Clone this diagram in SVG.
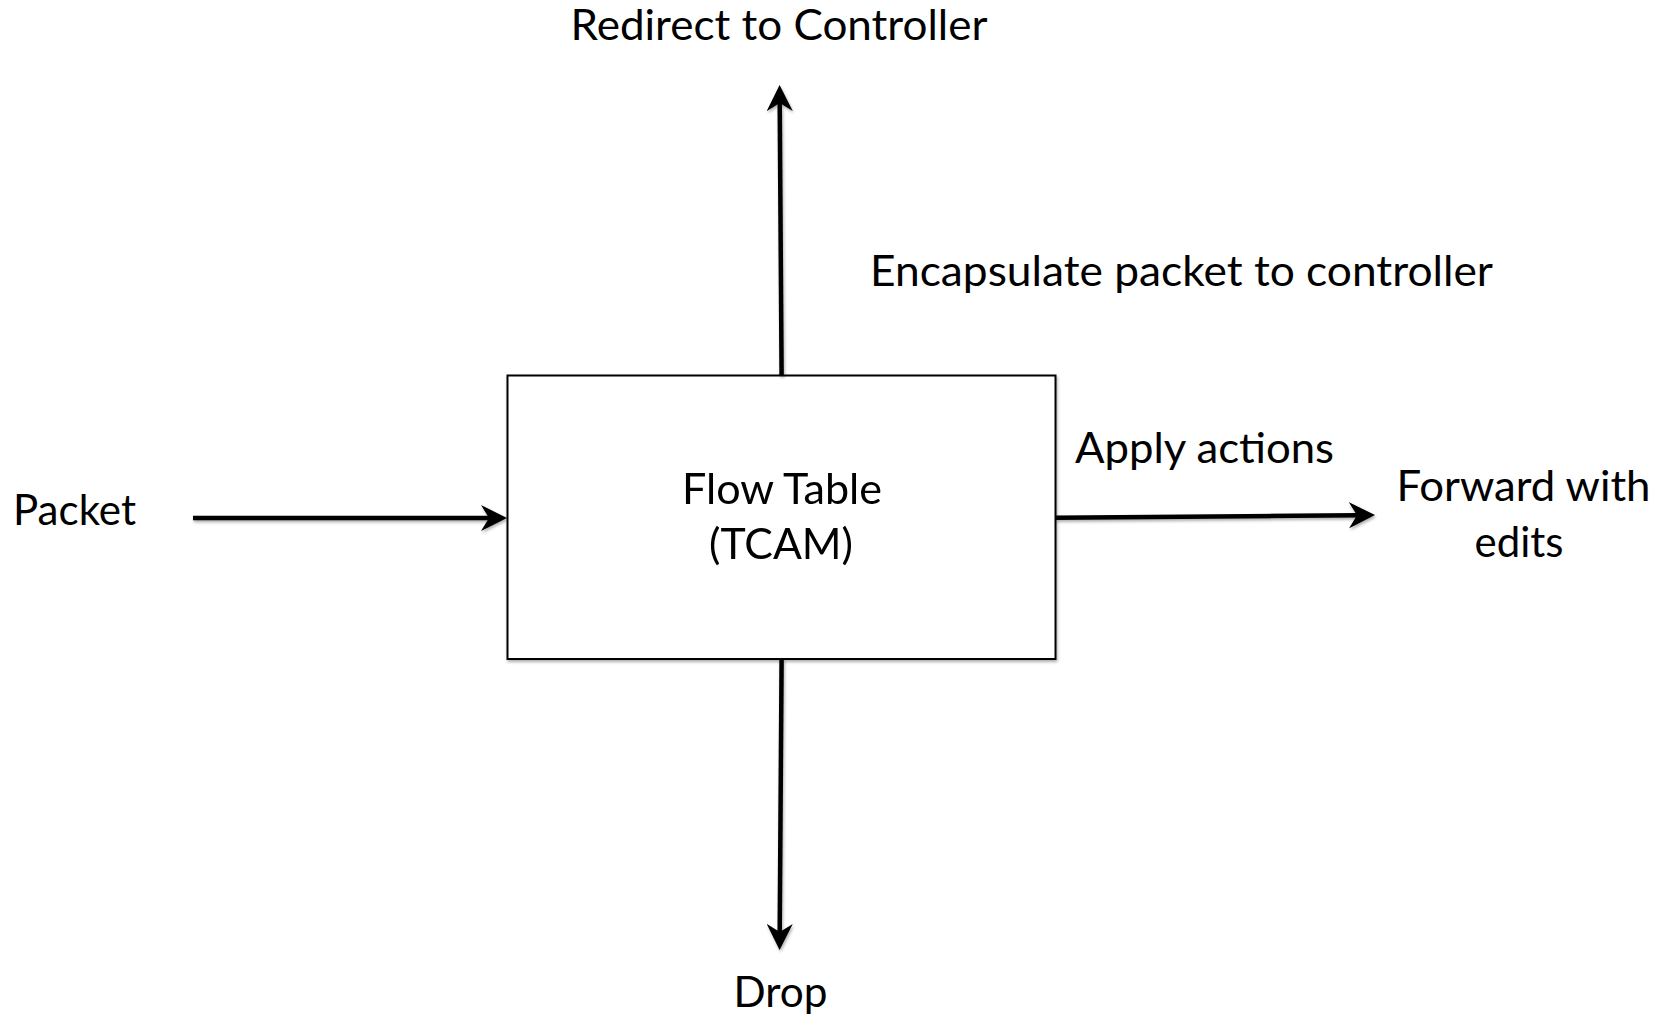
<svg xmlns="http://www.w3.org/2000/svg" width="1672" height="1017" viewBox="0 0 1672 1017">
  <defs>
    <style>
      .lbl { font-family: "Lato", "Open Sans", "Liberation Sans", sans-serif; font-size: 43px; fill: #000; }
      .mid { text-anchor: middle; }
      .edge { stroke: #000; stroke-width: 4.5; fill: none; }
      .box { fill: #fff; stroke: #000; stroke-width: 2; }
    </style>
    <!-- soft drop shadow used on the table box, its caption and the arrows -->
    <filter id="shadow" x="-10%" y="-10%" width="120%" height="130%">
      <feDropShadow dx="1" dy="2" stdDeviation="1.8" flood-color="#000" flood-opacity="0.32"/>
    </filter>
    <marker id="head" viewBox="0 -13 26 26" refX="8" refY="0" markerWidth="26" markerHeight="26" markerUnits="userSpaceOnUse" orient="auto">
      <path d="M0,-13 L26,0 L0,13 L8,0 Z" fill="#000"/>
    </marker>
  </defs>

  <rect width="1672" height="1017" fill="#fff"/>

  <!-- central flow table -->
  <g id="flow-table" filter="url(#shadow)">
    <rect class="box" x="507.5" y="375.5" width="548" height="283.5"/>
    <text class="lbl mid" x="782" y="503.5" textLength="200" lengthAdjust="spacingAndGlyphs">Flow Table</text>
    <text class="lbl mid" x="781" y="559" textLength="144" lengthAdjust="spacingAndGlyphs">(TCAM)</text>
  </g>

  <!-- connectors -->
  <g id="connectors" filter="url(#shadow)">
    <path class="edge" d="M193,518 L489,518" marker-end="url(#head)"/>
    <path class="edge" d="M781.6,375.5 L779.7,103" marker-end="url(#head)"/>
    <path class="edge" d="M781.6,659 L779.7,932" marker-end="url(#head)"/>
    <path class="edge" d="M1055.5,517.8 L1357,515.2" marker-end="url(#head)"/>
  </g>

  <!-- outcome labels -->
  <g id="packet">
    <text class="lbl" x="13" y="525" textLength="123" lengthAdjust="spacingAndGlyphs">Packet</text>
  </g>
  <g id="redirect">
    <text class="lbl mid" x="779" y="39.5" textLength="417" lengthAdjust="spacingAndGlyphs">Redirect to Controller</text>
  </g>
  <g id="encapsulate">
    <text class="lbl mid" x="1181.5" y="286" textLength="623" lengthAdjust="spacingAndGlyphs">Encapsulate packet to controller</text>
  </g>
  <g id="apply-actions">
    <text class="lbl" x="1075" y="462.5" textLength="259" lengthAdjust="spacingAndGlyphs">Apply actions</text>
  </g>
  <g id="forward">
    <text class="lbl mid" x="1523.5" y="501" textLength="254" lengthAdjust="spacingAndGlyphs">Forward with</text>
    <text class="lbl mid" x="1519" y="556.5" textLength="89" lengthAdjust="spacingAndGlyphs">edits</text>
  </g>
  <g id="drop">
    <text class="lbl mid" x="780.5" y="1007" textLength="94" lengthAdjust="spacingAndGlyphs">Drop</text>
  </g>
</svg>
